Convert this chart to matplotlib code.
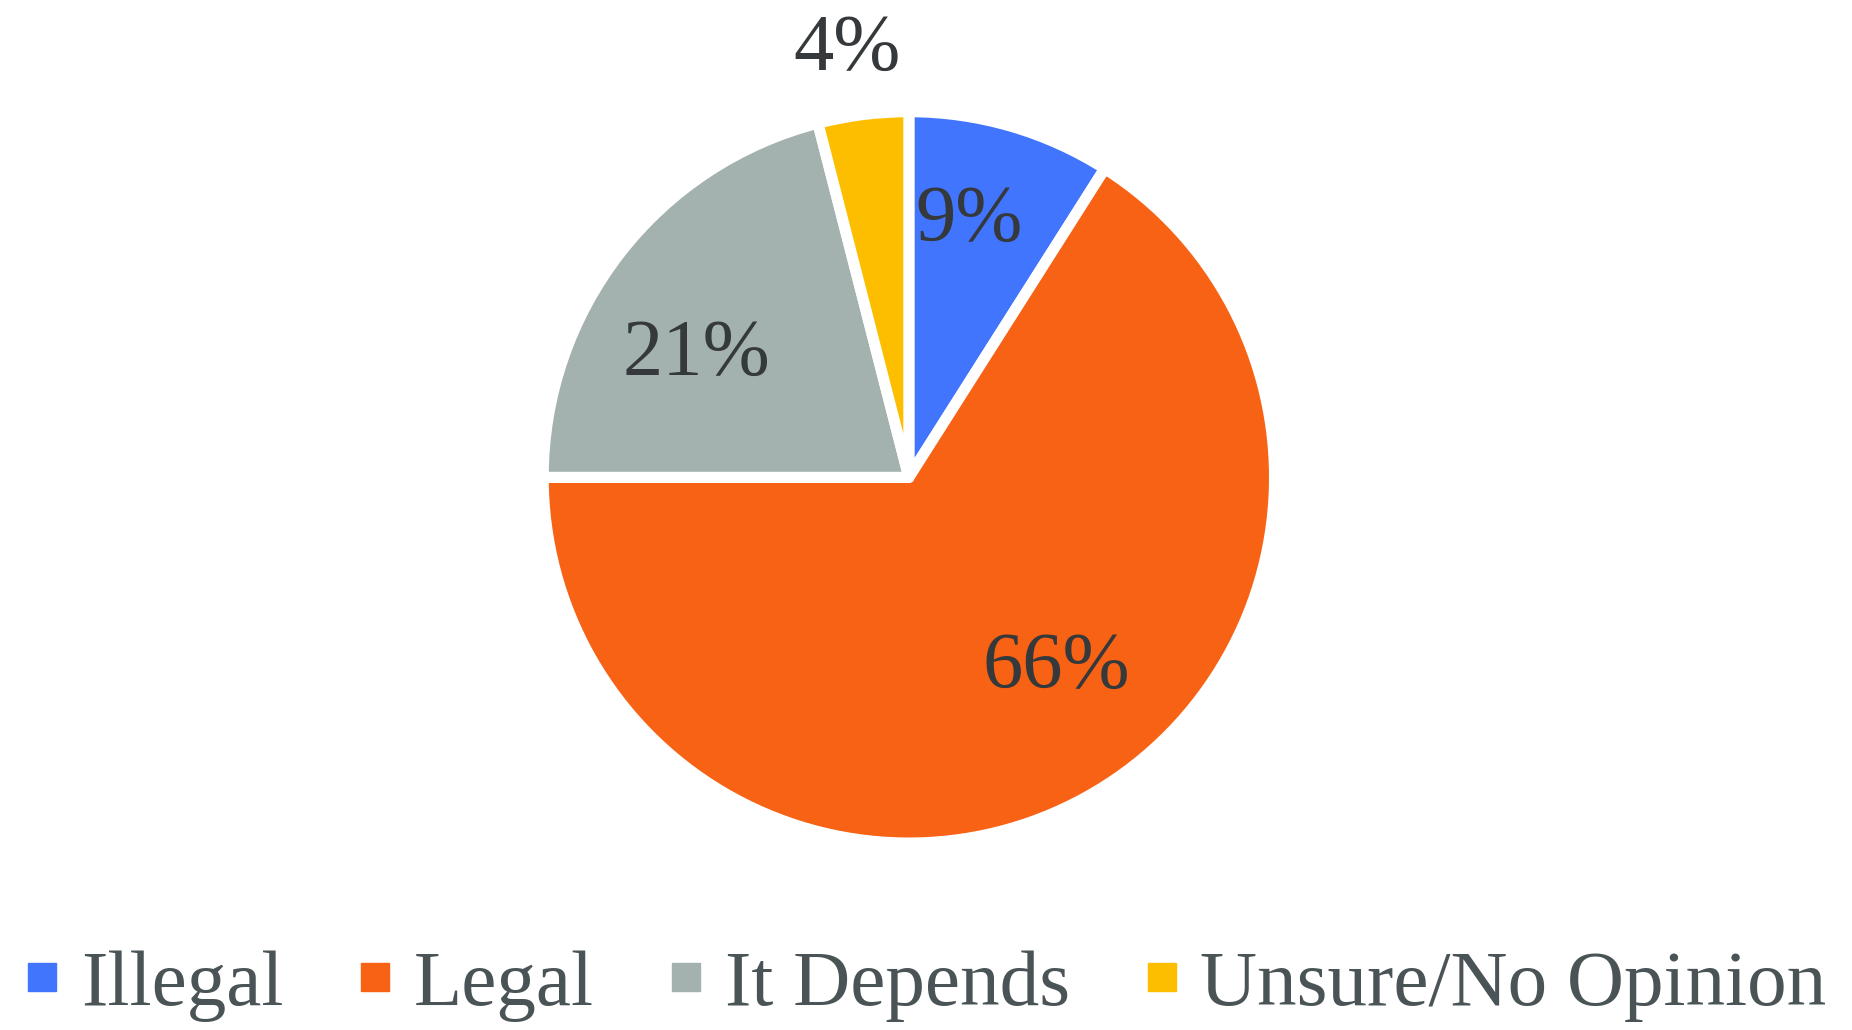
import numpy as np
import matplotlib.pyplot as plt
from matplotlib.lines import Line2D

# Data
categories = ["Illegal", "Legal", "It Depends", "Unsure/No Opinion"]
shares = [9, 66, 21, 4]
colors = ["#4175FE", "#F76214", "#A3B1AF", "#FEBE00"]
# where each % label sits: fraction of radius and shift from the wedge mid angle (deg)
label_radius = [0.72, 0.66, 0.67, 1.18]
label_shift = [3.0, 9.0, 8.0, 1.0]

plt.rcParams["font.family"] = ["Liberation Serif", "DejaVu Serif"]

fig = plt.figure(figsize=(18.52, 10.30), dpi=100)
ax = fig.add_axes([0.2933, 0.1815, 0.3949, 0.7101])

wedges, _ = ax.pie(shares, colors=colors, startangle=90, counterclock=False,
                   radius=1, wedgeprops=dict(edgecolor="white", linewidth=8,
                                             joinstyle="round"))

for w, val, r, s in zip(wedges, shares, label_radius, label_shift):
    mid = np.deg2rad((w.theta1 + w.theta2) / 2 + s)
    ax.text(r * np.cos(mid), r * np.sin(mid), f"{val}%", fontsize=58,
            color="#35393B", ha="center", va="center")

ax.set_xlim(-1, 1)
ax.set_ylim(-1, 1)
ax.set_aspect("equal")
ax.axis("off")

handles = [Line2D([], [], marker="s", linestyle="none", markersize=20,
                  markerfacecolor=c, markeredgecolor=c) for c in colors]
fig.legend(handles, categories, loc="center", bbox_to_anchor=(0.5, 0.043),
           ncol=4, frameon=False, fontsize=57, labelcolor="#4A5457",
           handlelength=0.42, handletextpad=0.28, columnspacing=0.95,
           borderpad=0, borderaxespad=0)

fig.savefig("out.png", dpi=100, facecolor="white")
